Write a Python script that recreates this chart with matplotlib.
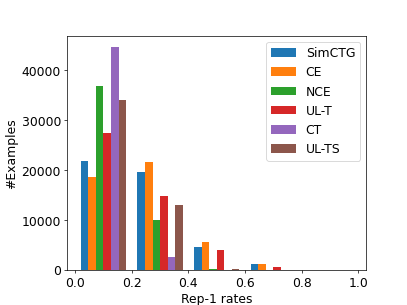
import numpy as np
import matplotlib
matplotlib.use('Agg')
from matplotlib import pyplot as plt

# bin edges for rep-1 rates
bin_edges = [0.0, 0.2, 0.4, 0.6, 0.8, 1.0]
bin_centers = [0.1, 0.3, 0.5, 0.7, 0.9]

# counts per bin
methods = ['SimCTG', 'CE', 'NCE', 'UL-T', 'CT', 'UL-TS']
simctg = [21800, 19700, 4550, 1150, 0]
ce = [18650, 21650, 5600, 1200, 0]
nce = [36800, 10100, 330, 0, 0]
ul_t = [27500, 14850, 4000, 680, 0]
ct = [44700, 2550, 0, 0, 0]
ul_ts = [34000, 13000, 200, 0, 0]

counts = [simctg, ce, nce, ul_t, ct, ul_ts]

plt.rcParams['font.size'] = 14

# default 6.4x4.8 figure rendered small
fig, ax = plt.subplots(figsize=(6.4, 4.8), dpi=63.6)
fig.subplots_adjust(left=0.165, right=0.9, top=0.882, bottom=0.114)

xs = [bin_centers] * len(counts)
ax.hist(xs, bins=bin_edges, weights=counts, label=methods)

ax.set_xlabel('Rep-1 rates')
ax.set_ylabel('#Examples')
ax.legend(loc='upper right')

fig.savefig('out.png', dpi=63.6)
